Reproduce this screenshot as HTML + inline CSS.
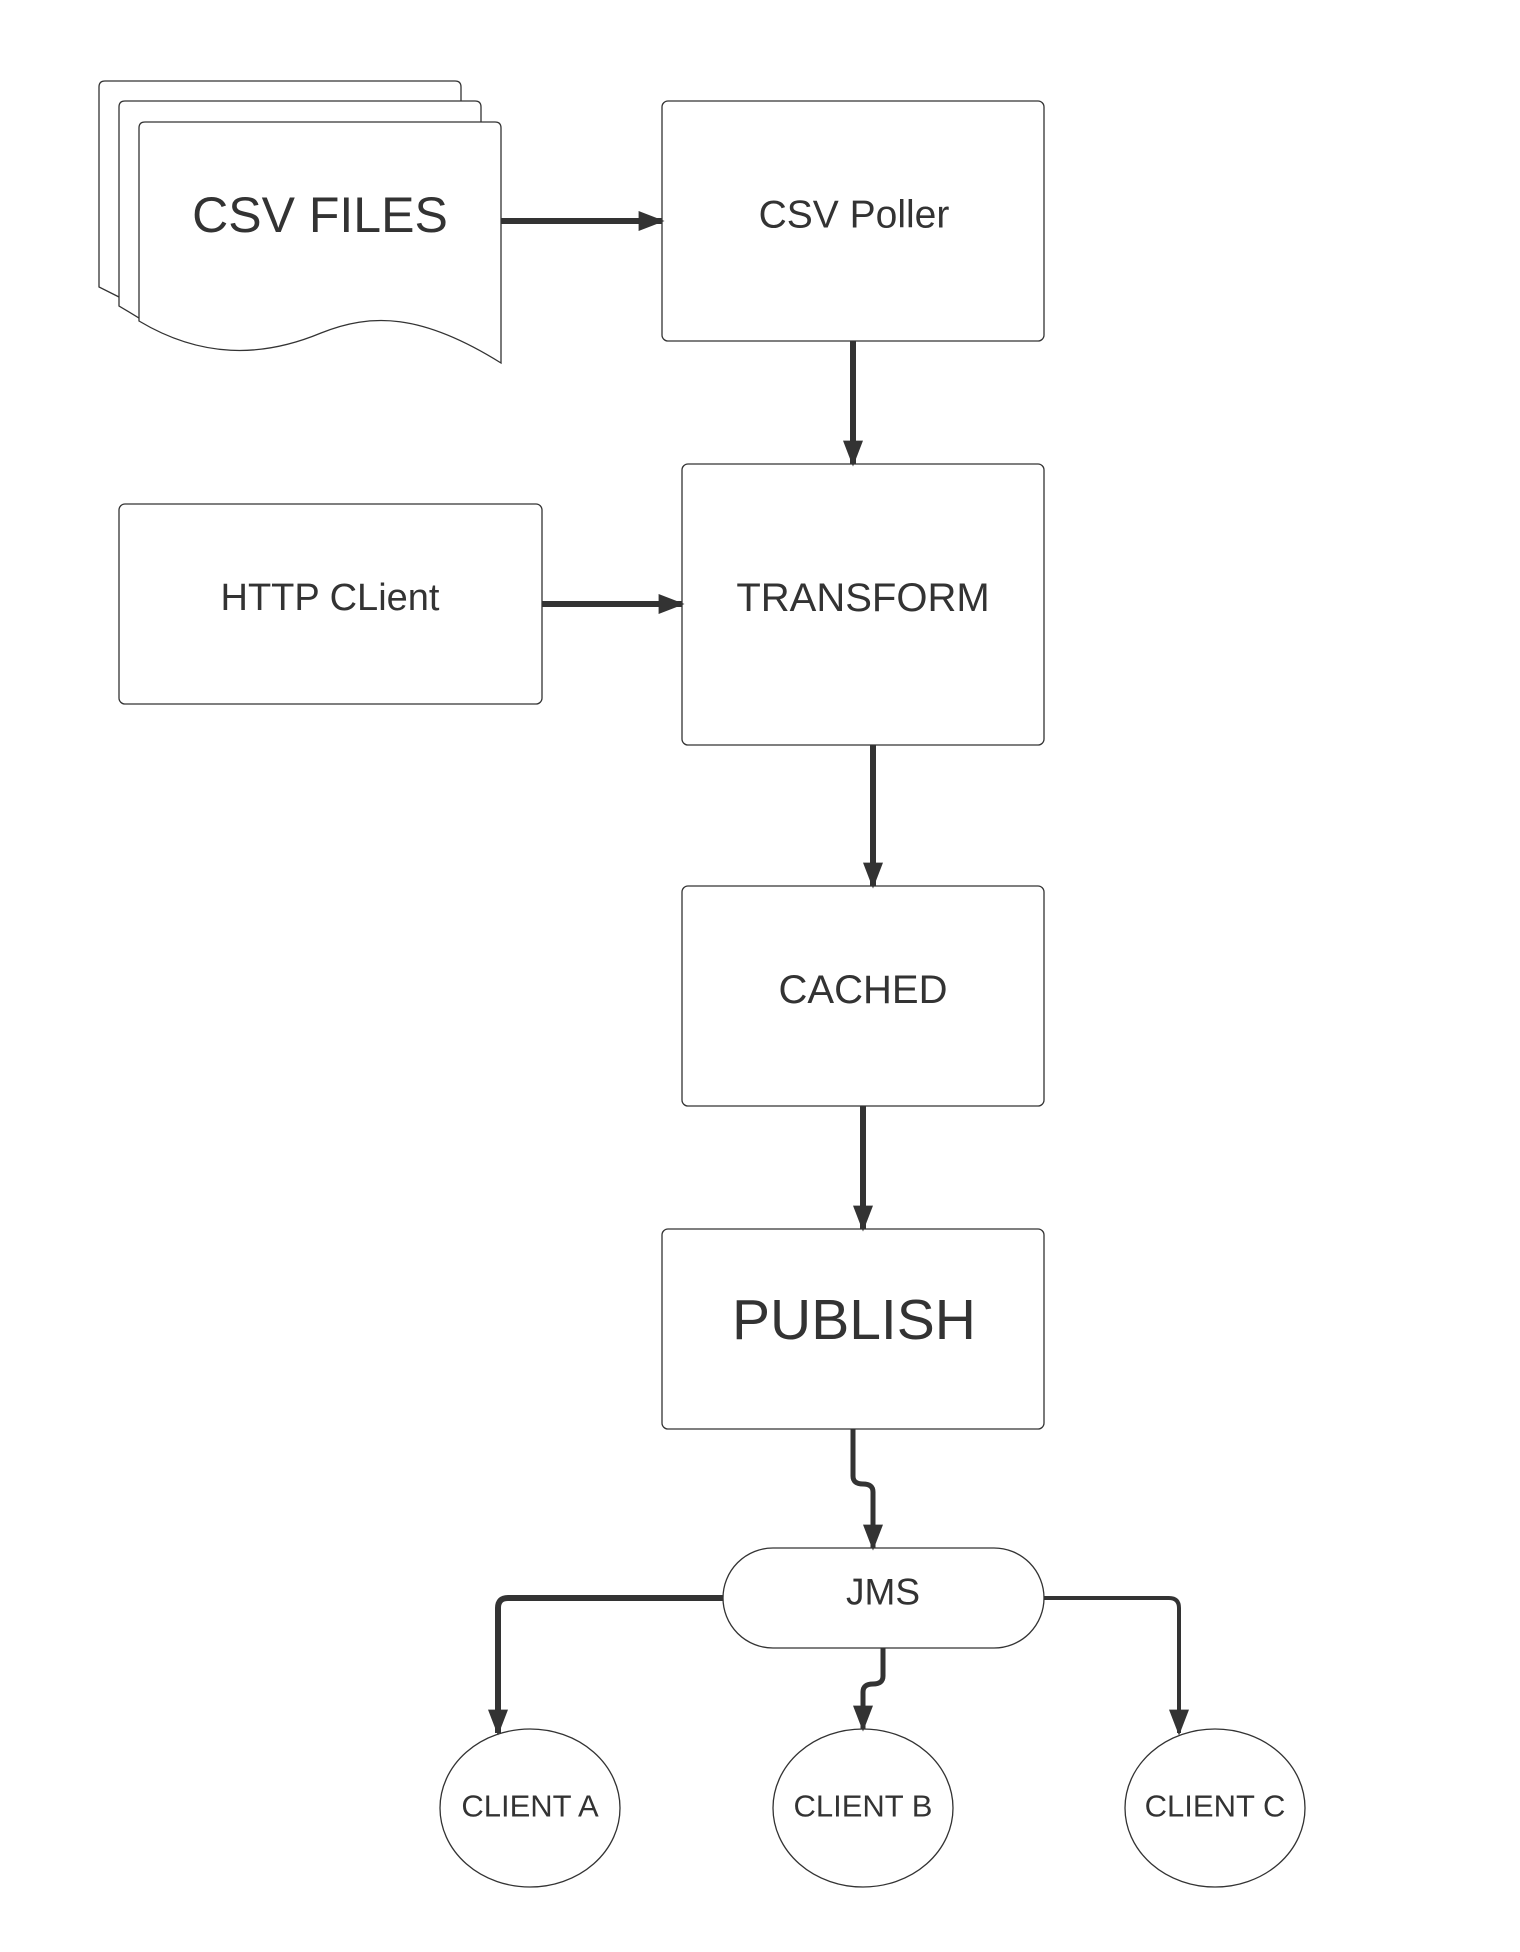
<!DOCTYPE html>
<html><head><meta charset="utf-8"><style>
html,body{margin:0;padding:0;background:#fff}
svg text{font-family:"Liberation Sans",sans-serif;fill:#333;text-anchor:middle;dominant-baseline:central}
</style></head><body>
<svg width="1520" height="1947" viewBox="0 0 1520 1947" xmlns="http://www.w3.org/2000/svg">
<defs>
<marker id="b" viewBox="0 0 10 10" refX="9" refY="5" markerWidth="26" markerHeight="20" orient="auto" markerUnits="userSpaceOnUse" preserveAspectRatio="none"><path d="M0,0 L10,5 L0,10z" fill="#333"/></marker></defs>
<g transform="translate(-2,0)">
<g fill="#fff" stroke="#333" stroke-width="1.3">
<path d="M101,287 V87 q0,-6 6,-6 h350 q6,0 6,6 V200 L121,297 z"/>
<path d="M121,306 V107 q0,-6 6,-6 h350 q6,0 6,6 V220 L141,318 z"/>
<path d="M141,128 q0,-6 6,-6 h350 q6,0 6,6 v235 c-80,-50 -130,-50 -180,-30 c-60,25 -120,25 -182,-12z"/>
<rect x="664" y="101" width="382" height="240" rx="6"/>
<rect x="684" y="464" width="362" height="281" rx="6"/>
<rect x="121" y="504" width="423" height="200" rx="6"/>
<rect x="684" y="886" width="362" height="220" rx="6"/>
<rect x="664" y="1229" width="382" height="200" rx="6"/>
<rect x="725" y="1548" width="321" height="100" rx="50"/>
<ellipse cx="532" cy="1808" rx="90" ry="79"/>
<ellipse cx="865" cy="1808" rx="90" ry="79"/>
<ellipse cx="1217" cy="1808" rx="90" ry="79"/>
</g>
<g fill="none" stroke="#333" stroke-width="6" marker-end="url(#b)">
<path d="M503,221 H664"/>
<path d="M855,341 V464"/>
<path d="M544,604 H684"/>
<path d="M875,745 V886"/>
<path d="M865,1106 V1229"/>
<path d="M855,1429 V1476 q0,8 10,8 q10,0 10,8 V1548" stroke-width="5"/>
<path d="M725,1598 H510 q-10,0 -10,10 V1733"/>
<path d="M885,1648 V1676 q0,8 -10,8 q-10,0 -10,8 V1729" stroke-width="5"/>
<path d="M1046,1598 H1171 q10,0 10,10 V1733" stroke-width="4"/>
</g>
<text x="322" y="215" font-size="50">CSV FILES</text>
<text x="856" y="215" font-size="39">CSV Poller</text>
<text x="865" y="598" font-size="40">TRANSFORM</text>
<text x="332" y="598" font-size="38">HTTP CLient</text>
<text x="865" y="990" font-size="40">CACHED</text>
<text x="856" y="1320" font-size="57">PUBLISH</text>
<text x="885" y="1592" font-size="37">JMS</text>
<text x="532" y="1806" font-size="31">CLIENT A</text>
<text x="865" y="1806" font-size="31">CLIENT B</text>
<text x="1217" y="1806" font-size="31">CLIENT C</text>
</g>
</svg>
</body></html>
